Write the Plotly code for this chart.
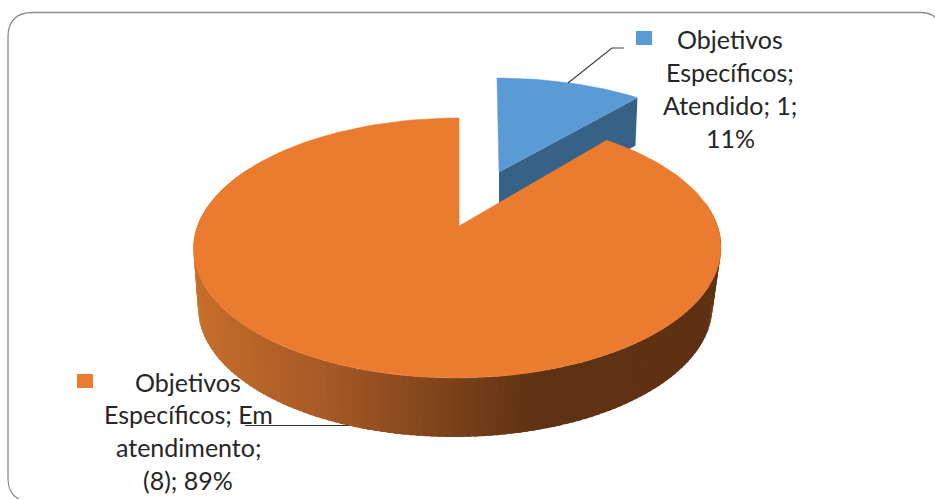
import math
import plotly.graph_objects as go

# ---- data ----
categories = ["Atendido", "Em atendimento"]
values = [1, 8]
label_lines_a = ["Objetivos", "Específicos;", "Atendido; 1;", "11%"]
label_lines_b = ["Objetivos", "Específicos; Em", "atendimento;", "(8); 89%"]

# ---- projection / style constants ----
W, H = 935, 499
X0, Y0 = 459.0, 226.0      # projected centre of the pie
A, B, K = 260.0, 126.3, 0.169
BLUE, BLUE_DARK = "#5B9BD5", "#366288"
ORANGE = "#EB7B2F"
GRAD = [(198, (198, 110, 43)), (323, (167, 90, 37)), (430, (131, 70, 28)),
        (537, (94, 50, 18)), (725, (95, 49, 18))]
FONT = dict(family="Lato, Carlito, sans-serif", size=25, color="#262626")


def project(u, v, x0=X0, y0=Y0, xs=1.0):
    w = 1 + K * v
    return x0 + xs * A * u / w, y0 - B * v / w


def rim(deg, pull=0.0, **kw):
    t = math.radians(deg)
    return project(math.sin(t), math.cos(t) + pull, **kw)


def rim_b(deg, **kw):
    # the reference's outline sits 3 px left of its centre away from the top edge
    x0 = kw.pop("x0", X0) - 3.0 * (1 - math.cos(math.radians(deg))) / 2
    return rim(deg, x0=x0, **kw)


def grad_color(x):
    if x <= GRAD[0][0]:
        c = GRAD[0][1]
    else:
        c = GRAD[-1][1]
        for (x1, c1), (x2, c2) in zip(GRAD, GRAD[1:]):
            if x1 <= x <= x2:
                f = (x - x1) / (x2 - x1)
                c = tuple(a + (b - a) * f for a, b in zip(c1, c2))
                break
    return "rgb(%d,%d,%d)" % tuple(round(v) for v in c)


def poly(fig, pts, color, name, line=0.0, lcolor=None):
    xs, ys = zip(*pts)
    fig.add_trace(go.Scatter(
        x=list(xs) + [xs[0]], y=list(ys) + [ys[0]], mode="lines", fill="toself",
        fillcolor=color, line=dict(width=line, color=lcolor or color),
        name=name, hoverinfo="name", showlegend=False))


sweep_a = 360.0 * values[0] / sum(values)
fig = go.Figure()

# ---- slice 1 (pulled out) ----
PULL = 0.461
BX = 497.0
DEPTH_A = 48.0
steps_a = 24
ta = [sweep_a * i / steps_a for i in range(steps_a + 1)]
vertex_a = project(0, PULL, x0=BX + 2)
edge_a = rim(sweep_a, PULL, x0=BX + 2)
poly(fig, [vertex_a, edge_a, (edge_a[0] - 2, edge_a[1] + DEPTH_A),
           (vertex_a[0], vertex_a[1] + DEPTH_A)], BLUE_DARK, categories[0] + " lado")
poly(fig, [vertex_a] + [rim(t, PULL, x0=BX + 2 * t / sweep_a) for t in ta], BLUE, categories[0],
     line=0.5)

# leader lines sit under the pie
fig.add_trace(go.Scatter(x=[245, 350], y=[425.5, 425.5], mode="lines",
                         line=dict(color="#303030", width=1),
                         hoverinfo="skip", showlegend=False))

# ---- slice 2, side wall: overlapping strips painted left to right ----
DEPTH_B = 59.0
t0, t1 = 80, 300
n = 160
step = (t1 - t0) / n
for i in range(n):
    a2 = t1 - step * i
    a1 = a2 - step * 1.6
    p1, p2 = rim_b(a1), rim_b(a2)
    q1 = rim_b(a1, y0=Y0 + DEPTH_B, xs=0.975, x0=X0 - 2)
    q2 = rim_b(a2, y0=Y0 + DEPTH_B, xs=0.975, x0=X0 - 2)
    col = grad_color((p1[0] + p2[0] + q1[0] + q2[0]) / 4)
    poly(fig, [p1, p2, q2, q1], col, categories[1] + " lado")

# ---- slice 2, top face ----
steps_b = 160
arc = [sweep_a + (360 - sweep_a) * i / steps_b for i in range(steps_b + 1)]
poly(fig, [project(0, 0)] + [rim_b(t) for t in arc], ORANGE, categories[1], line=0.5)

# upper leader line
fig.add_trace(go.Scatter(x=[568, 612, 624], y=[83, 48, 48], mode="lines",
                         line=dict(color="#404040", width=1.2),
                         hoverinfo="skip", showlegend=False))

# ---- texts ----
ann = []
for txt, y in zip(label_lines_a, [39, 72, 105, 138]):
    ann.append(dict(x=730, y=y, text=txt))
for txt, y, x in zip(label_lines_b, [382, 414, 447, 480], [188, 188.5, 188, 188]):
    ann.append(dict(x=x, y=y, text=txt))
for a in ann:
    a.update(xref="x", yref="y", showarrow=False, font=FONT, xanchor="center", yanchor="middle")

shapes = [
    dict(type="path", xref="x", yref="y",
         path="M 19 499 Q 8 494 8 478 L 8 37 Q 8 12.5 33 12.5 L 922 12.5 Q 931 13 936 18",
         line=dict(color="#8C8C8C", width=1.3), layer="below"),
    dict(type="rect", xref="x", yref="y", x0=636, x1=652, y0=31, y1=45,
         fillcolor=BLUE, line_width=0),
    dict(type="rect", xref="x", yref="y", x0=77, x1=93, y0=374, y1=388,
         fillcolor=ORANGE, line_width=0),
]

fig.update_layout(
    width=W, height=H, margin=dict(l=0, r=0, t=0, b=0),
    paper_bgcolor="white", plot_bgcolor="white", showlegend=False,
    xaxis=dict(range=[0, W], visible=False, fixedrange=True),
    yaxis=dict(range=[H, 0], visible=False, fixedrange=True),
    annotations=ann, shapes=shapes,
)
fig.write_html("out.html", config=dict(displayModeBar=False),
               post_script="document.body.style.margin='0';")
